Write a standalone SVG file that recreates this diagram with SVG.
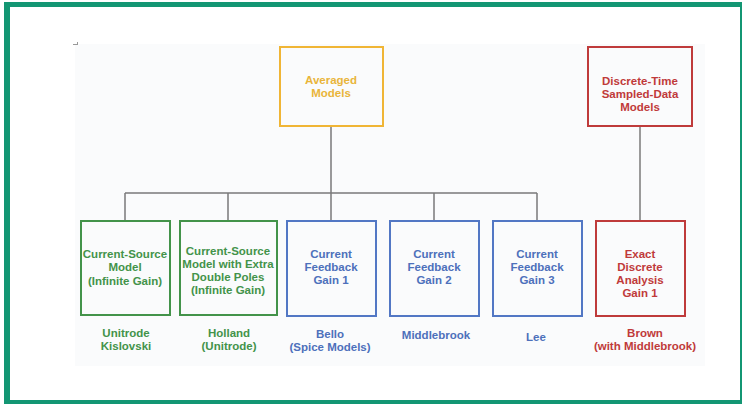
<svg xmlns="http://www.w3.org/2000/svg" width="742" height="404" viewBox="0 0 742 404">
<style>
  .box { fill: none; stroke-width: 2; }
  .t { font-family: "Liberation Sans", Arial, sans-serif; font-weight: bold; font-size: 11.5px; text-anchor: middle; }
  .g { fill: #43934a; } .gs { stroke: #43934a; }
  .b { fill: #4d70bb; } .bs { stroke: #5277c4; }
  .r { fill: #c03a3a; } .rs { stroke: #bf3b3b; }
  .y { fill: #e9b53a; } .ys { stroke: #f0b535; }
  .conn { stroke: #7a7a7a; stroke-width: 1.5; fill: none; }
  .frame { fill: #139673; }
</style>
<rect width="742" height="404" fill="#ffffff"/>
<rect x="75" y="44" width="630" height="322" fill="#fafbfc"/>
<path d="M73 44.5 H78 M77.5 42 V44.5" stroke="#999" stroke-width="1" fill="none"/>
<g id="frame">
  <rect class="frame" x="4" y="2" width="6" height="402"/>
  <rect class="frame" x="4" y="2" width="738" height="5"/>
  <rect class="frame" x="4" y="400" width="738" height="4"/>
  <rect class="frame" x="740" y="2" width="2" height="402"/>
</g>
<g id="connectors">
  <path class="conn" d="M331 126 V193 M125 193 H537 M125 193 V220 M228 193 V220 M331 193 V220 M434 193 V220 M537 193 V220"/>
  <path class="conn" d="M640 126 V220"/>
</g>
<g id="averaged">
  <rect class="box ys" x="280" y="47" width="103" height="79"/>
  <text class="t y" x="331" y="84">Averaged</text>
  <text class="t y" x="331" y="97">Models</text>
</g>
<g id="discrete">
  <rect class="box rs" x="588" y="47" width="104" height="79"/>
  <text class="t r" x="640" y="85">Discrete-Time</text>
  <text class="t r" x="640" y="98">Sampled-Data</text>
  <text class="t r" x="640" y="111">Models</text>
</g>
<g id="cs">
  <rect class="box gs" x="81" y="221" width="89" height="94"/>
  <text class="t g" x="125" y="258">Current-Source</text>
  <text class="t g" x="125" y="271">Model</text>
  <text class="t g" x="125" y="285">(Infinite Gain)</text>
  <text class="t g" x="126" y="337">Unitrode</text>
  <text class="t g" x="126" y="350">Kislovski</text>
</g>
<g id="csx">
  <rect class="box gs" x="180" y="221" width="97" height="94"/>
  <text class="t g" x="228" y="255">Current-Source</text>
  <text class="t g" x="228" y="268">Model with Extra</text>
  <text class="t g" x="228" y="281">Double Poles</text>
  <text class="t g" x="228" y="294">(Infinite Gain)</text>
  <text class="t g" x="229" y="337">Holland</text>
  <text class="t g" x="229" y="350">(Unitrode)</text>
</g>
<g id="cf1">
  <rect class="box bs" x="287" y="221" width="89" height="95"/>
  <text class="t b" x="331" y="258">Current</text>
  <text class="t b" x="331" y="271">Feedback</text>
  <text class="t b" x="331" y="284">Gain 1</text>
  <text class="t b" x="330" y="338">Bello</text>
  <text class="t b" x="330" y="351">(Spice Models)</text>
</g>
<g id="cf2">
  <rect class="box bs" x="390" y="221" width="89" height="95"/>
  <text class="t b" x="434" y="258">Current</text>
  <text class="t b" x="434" y="271">Feedback</text>
  <text class="t b" x="434" y="284">Gain 2</text>
  <text class="t b" x="436" y="339">Middlebrook</text>
</g>
<g id="cf3">
  <rect class="box bs" x="493" y="221" width="89" height="95"/>
  <text class="t b" x="537" y="258">Current</text>
  <text class="t b" x="537" y="271">Feedback</text>
  <text class="t b" x="537" y="284">Gain 3</text>
  <text class="t b" x="536" y="341">Lee</text>
</g>
<g id="exact">
  <rect class="box rs" x="596" y="221" width="89" height="95"/>
  <text class="t r" x="640" y="258">Exact</text>
  <text class="t r" x="640" y="271">Discrete</text>
  <text class="t r" x="640" y="284">Analysis</text>
  <text class="t r" x="640" y="297">Gain 1</text>
  <text class="t r" x="645" y="337">Brown</text>
  <text class="t r" x="645" y="350">(with Middlebrook)</text>
</g>
</svg>
